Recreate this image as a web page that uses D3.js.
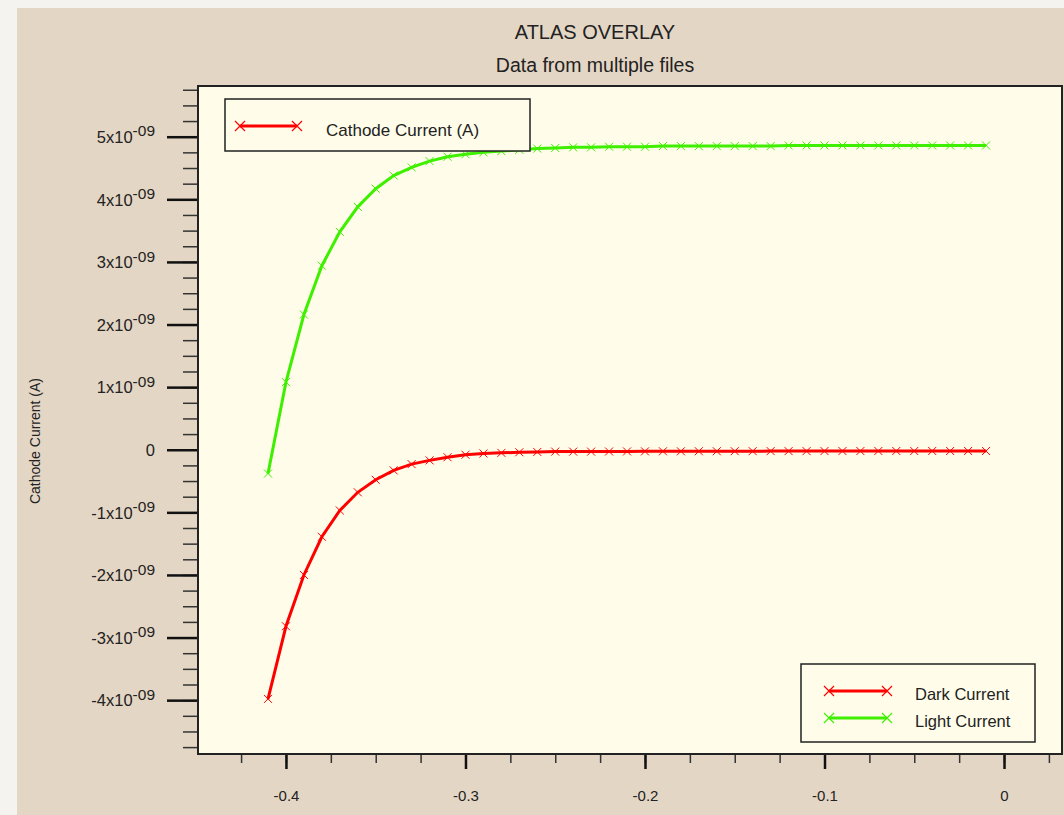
<!DOCTYPE html>
<html>
<head>
<meta charset="utf-8">
<script src="https://cdn.jsdelivr.net/npm/d3@7"></script>
<style>
  html, body { margin: 0; padding: 0; background: #f5f3f0; }
  svg { display: block; }
  text { font-family: "Liberation Sans", Arial, sans-serif; fill: #222; }
</style>
</head>
<body>
<svg id="chart" width="1064" height="815"></svg>
<script>
// ---- data ----
const voltages = [-0.41,-0.40,-0.39,-0.38,-0.37,-0.36,-0.35,-0.34,-0.33,-0.32,-0.31,-0.30,-0.29,-0.28,-0.27,-0.26,-0.25,-0.24,-0.23,-0.22,-0.21,-0.20,-0.19,-0.18,-0.17,-0.16,-0.15,-0.14,-0.13,-0.12,-0.11,-0.10,-0.09,-0.08,-0.07,-0.06,-0.05,-0.04,-0.03,-0.02,-0.01];
const darkCurrent = [-3.98e-9,-2.82e-9,-2.00e-9,-1.39e-9,-0.97e-9,-0.68e-9,-0.48e-9,-0.33e-9,-0.23e-9,-0.17e-9,-0.12e-9,-0.08e-9,-0.06e-9,-0.05e-9,-0.04e-9,-0.035e-9,-0.03e-9,-0.03e-9,-0.03e-9,-0.028e-9,-0.027e-9,-0.026e-9,-0.025e-9,-0.025e-9,-0.024e-9,-0.024e-9,-0.023e-9,-0.023e-9,-0.022e-9,-0.022e-9,-0.022e-9,-0.021e-9,-0.021e-9,-0.021e-9,-0.02e-9,-0.02e-9,-0.02e-9,-0.02e-9,-0.02e-9,-0.02e-9,-0.02e-9];
const lightCurrent = [-0.38e-9,1.08e-9,2.16e-9,2.94e-9,3.48e-9,3.88e-9,4.17e-9,4.38e-9,4.51e-9,4.61e-9,4.68e-9,4.72e-9,4.75e-9,4.77e-9,4.79e-9,4.81e-9,4.82e-9,4.83e-9,4.83e-9,4.84e-9,4.84e-9,4.84e-9,4.85e-9,4.85e-9,4.85e-9,4.85e-9,4.85e-9,4.85e-9,4.85e-9,4.86e-9,4.86e-9,4.86e-9,4.86e-9,4.86e-9,4.86e-9,4.86e-9,4.86e-9,4.86e-9,4.86e-9,4.86e-9,4.86e-9];
const seriesNames = ["Dark Current", "Light Current"];
const seriesColors = ["#ff0000", "#3ef000"];
const xMajorTicks = [-0.4, -0.3, -0.2, -0.1, 0];
const xTickLabels = ["-0.4", "-0.3", "-0.2", "-0.1", "0"];
const yMajorTicks = [5e-9, 4e-9, 3e-9, 2e-9, 1e-9, 0, -1e-9, -2e-9, -3e-9, -4e-9];
const yTickMantissa = ["5", "4", "3", "2", "1", "0", "-1", "-2", "-3", "-4"];
const titleText = "ATLAS OVERLAY";
const subtitleText = "Data from multiple files";
const yAxisTitle = "Cathode Current (A)";
const topLegendLabel = "Cathode Current (A)";

// ---- layout ----
const svg = d3.select("#chart");
const plot = {left: 198, top: 86, right: 1062, bottom: 754};
const FONT = "'Liberation Sans', Arial, sans-serif";

svg.append("rect").attr("x", 17).attr("y", 8).attr("width", 1047).attr("height", 807).attr("fill", "#e4d6c5");

const x = d3.scaleLinear().domain([-0.449, 0.0323]).range([plot.left, plot.right]);
const y = d3.scaleLinear().domain([-4.86e-9, 5.81e-9]).range([plot.bottom, plot.top]);

svg.append("rect").attr("x", plot.left).attr("y", plot.top)
  .attr("width", plot.right - plot.left).attr("height", plot.bottom - plot.top)
  .attr("fill", "#fffde9");

// titles
svg.append("text").attr("x", 595).attr("y", 39).attr("text-anchor", "middle")
  .attr("font-size", 20).text(titleText);
svg.append("text").attr("x", 595).attr("y", 72).attr("text-anchor", "middle")
  .attr("font-size", 19.5).text(subtitleText);
svg.append("text").attr("transform", "translate(40,441) rotate(-90)").attr("text-anchor", "middle")
  .attr("font-size", 14).text(yAxisTitle);

// minor ticks
const xMinor = d3.range(-0.45, 0.03, 0.025).map(v => +v.toFixed(3)).filter(v => x(v) >= plot.left - 1 && x(v) <= plot.right);
const yMinor = d3.range(-4.75e-9, 5.8e-9, 0.25e-9).map(v => +v.toExponential(3));

const xMinorAxis = d3.axisBottom(x).tickValues(xMinor).tickSize(9).tickFormat("").tickSizeOuter(0);
svg.append("g").attr("transform", `translate(0,${plot.bottom})`).call(xMinorAxis)
  .call(g => g.select(".domain").remove())
  .call(g => g.selectAll("line").attr("stroke", "#333").attr("stroke-width", 1.5));

const xMajorAxis = d3.axisBottom(x).tickValues(xMajorTicks).tickSize(15).tickPadding(21)
  .tickFormat((d, i) => xTickLabels[i]).tickSizeOuter(0);
svg.append("g").attr("transform", `translate(0,${plot.bottom})`).call(xMajorAxis)
  .call(g => g.select(".domain").remove())
  .call(g => g.selectAll("line").attr("stroke", "#111").attr("stroke-width", 2.5))
  .call(g => g.selectAll("text").attr("font-size", 15).attr("fill", "#222")
    .attr("font-family", FONT));

const yMinorAxis = d3.axisLeft(y).tickValues(yMinor).tickSize(15).tickFormat("").tickSizeOuter(0);
svg.append("g").attr("transform", `translate(${plot.left},0)`).call(yMinorAxis)
  .call(g => g.select(".domain").remove())
  .call(g => g.selectAll("line").attr("stroke", "#333").attr("stroke-width", 1.5));

const yMajorAxis = d3.axisLeft(y).tickValues(yMajorTicks).tickSize(31).tickPadding(12)
  .tickFormat("").tickSizeOuter(0);
svg.append("g").attr("transform", `translate(${plot.left},0)`).call(yMajorAxis)
  .call(g => g.select(".domain").remove())
  .call(g => g.selectAll("line").attr("stroke", "#111").attr("stroke-width", 2.5))
  .call(g => g.selectAll(".tick").each(function(d, i) {
    const t = d3.select(this).select("text")
      .attr("font-size", 16.5).attr("fill", "#222").attr("dy", "0.35em")
      .attr("font-family", FONT);
    t.text(null);
    if (d === 0) {
      t.append("tspan").text("0");
    } else {
      t.append("tspan").text(yTickMantissa[i] + "x10");
      t.append("tspan").attr("font-size", 15.5).attr("dy", "-0.42em").text("-09");
    }
  }));

// plot border
svg.append("rect").attr("x", plot.left).attr("y", plot.top)
  .attr("width", plot.right - plot.left).attr("height", plot.bottom - plot.top)
  .attr("fill", "none").attr("stroke", "#222").attr("stroke-width", 2);

// series
const allSeries = [darkCurrent, lightCurrent];
const line = d3.line().x(d => x(d[0])).y(d => y(d[1]));
const crossPath = (cx, cy, r) => `M${cx - r},${cy - r}L${cx + r},${cy + r}M${cx - r},${cy + r}L${cx + r},${cy - r}`;

allSeries.forEach((vals, si) => {
  const pts = voltages.map((v, i) => [v, vals[i]]);
  svg.append("path").datum(pts).attr("d", line)
    .attr("fill", "none").attr("stroke", seriesColors[si]).attr("stroke-width", 3);
  svg.append("g").selectAll("path").data(pts).join("path")
    .attr("d", d => crossPath(x(d[0]), y(d[1]), 4))
    .attr("stroke", seriesColors[si]).attr("stroke-width", 1).attr("fill", "none");
});

// legends
function legendSample(g, x1, x2, yy, color) {
  g.append("line").attr("x1", x1).attr("x2", x2).attr("y1", yy).attr("y2", yy)
    .attr("stroke", color).attr("stroke-width", 3);
  [x1, x2].forEach(cx => g.append("path").attr("d", crossPath(cx, yy, 5))
    .attr("stroke", color).attr("stroke-width", 1.2).attr("fill", "none"));
}

const leg1 = svg.append("g");
leg1.append("rect").attr("x", 225).attr("y", 99).attr("width", 305).attr("height", 52)
  .attr("fill", "#fffde9").attr("stroke", "#222").attr("stroke-width", 1.5);
legendSample(leg1, 240, 297, 126, seriesColors[0]);
leg1.append("text").attr("x", 326).attr("y", 136).attr("font-size", 17).text(topLegendLabel);

const leg2 = svg.append("g");
leg2.append("rect").attr("x", 801).attr("y", 664).attr("width", 234).attr("height", 78)
  .attr("fill", "#fffde9").attr("stroke", "#222").attr("stroke-width", 1.5);
seriesNames.forEach((name, i) => {
  const yy = 691 + i * 27;
  legendSample(leg2, 829, 887, yy, seriesColors[i]);
  leg2.append("text").attr("x", 915).attr("y", yy + 9).attr("font-size", 16.5).text(name);
});
</script>
</body>
</html>
